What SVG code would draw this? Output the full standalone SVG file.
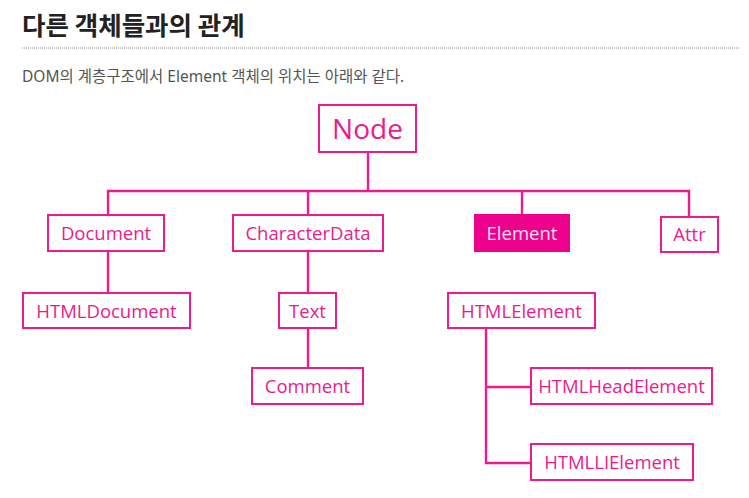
<svg xmlns="http://www.w3.org/2000/svg" width="749" height="498" viewBox="0 0 749 498">
<style>
.box{fill:#fff;stroke:#ee1a8f;stroke-width:2}
.lbl{font-family:"Open Sans","Noto Sans",sans-serif;font-size:18.5px;fill:#ec1a8c;text-anchor:middle}
.con{fill:none;stroke:#ee1a8f;stroke-width:2.4}
</style>
<rect width="749" height="498" fill="#fff"/>
<text x="22" y="35" font-family="'Noto Sans CJK KR',sans-serif" font-weight="bold" font-size="25.5" fill="#222">다른 객체들과의 관계</text>
<line x1="22" y1="48" x2="740" y2="48" stroke="#888" stroke-width="1" stroke-dasharray="1,1"/>
<text x="22" y="82" font-family="'Noto Sans','Noto Sans CJK KR',sans-serif" font-size="15.5" fill="#555">DOM의 계층구조에서 Element 객체의 위치는 아래와 같다.</text>
<g id="connectors">
<path class="con" d="M368 152V191M108 215V191H689V217M308 191V215M522 191V214M108 251V293M308 251V293M308 328V368M486 328V463H531M486 387H531"/>
</g>
<g id="node"><rect class="box" x="319" y="105" width="97" height="47"/><text class="lbl" x="367.5" y="139" style="font-size:28px">Node</text></g>
<g id="document"><rect class="box" x="48" y="215" width="116" height="36"/><text class="lbl" x="106" y="240">Document</text></g>
<g id="characterdata"><rect class="box" x="233" y="215" width="150" height="36"/><text class="lbl" x="308" y="240">CharacterData</text></g>
<g id="element"><rect x="474" y="214" width="96" height="38" fill="#ec008c"/><text class="lbl" x="522" y="240" style="fill:#fce4f0">Element</text></g>
<g id="attr"><rect class="box" x="661" y="217" width="57" height="35"/><text class="lbl" x="689.5" y="241">Attr</text></g>
<g id="htmldocument"><rect class="box" x="23" y="293" width="167" height="35"/><text class="lbl" x="106.5" y="318">HTMLDocument</text></g>
<g id="text"><rect class="box" x="279" y="293" width="57" height="35"/><text class="lbl" x="307.5" y="318">Text</text></g>
<g id="htmlelement"><rect class="box" x="448" y="293" width="147" height="35"/><text class="lbl" x="521.5" y="318">HTMLElement</text></g>
<g id="comment"><rect class="box" x="252" y="368" width="111" height="36"/><text class="lbl" x="307.5" y="393">Comment</text></g>
<g id="htmlheadelement"><rect class="box" x="531" y="368" width="181" height="36"/><text class="lbl" x="621.5" y="393">HTMLHeadElement</text></g>
<g id="htmllielement"><rect class="box" x="531" y="444" width="162" height="36"/><text class="lbl" x="612" y="469">HTMLLIElement</text></g>
</svg>
